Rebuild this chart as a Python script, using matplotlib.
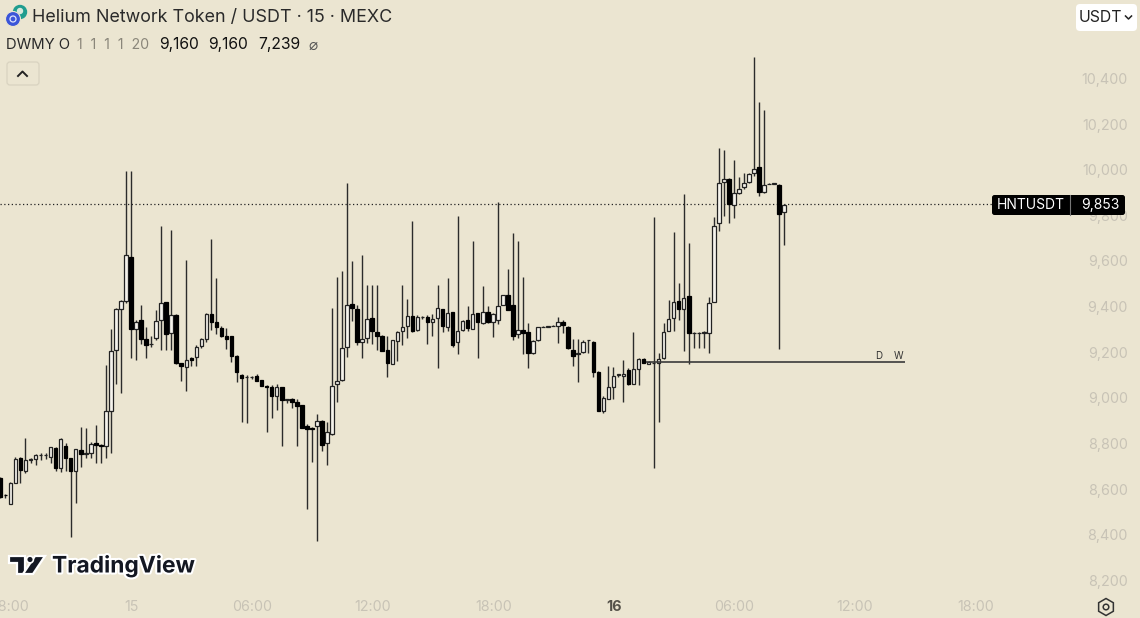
import numpy as np
import matplotlib
matplotlib.use('Agg')
import matplotlib.pyplot as plt
from matplotlib.patches import FancyBboxPatch, Circle, Polygon, RegularPolygon
import matplotlib.patheffects as pe

# 15 minute candles, bar 0 is the "15" day tick
first_bar = -26
opens = [8650, 8578, 8538, 8631, 8738, 8684, 8732, 8733, 8752, 8752, 8742, 8781, 8695, 8793, 8738, 8684, 8774, 8758, 8762, 8803, 8796, 8792, 8947, 9214, 9392, 9429, 9620, 9306, 9342, 9261, 9237, 9266, 9342, 9421, 9285, 9367, 9155, 9136, 9176, 9180, 9230, 9261, 9372, 9337, 9307, 9275, 9272, 9188, 9103, 9094,
         9093, 9098, 9081, 9056, 9049, 9011, 9049, 8994, 8998, 8986, 8970, 8879, 8871, 8879, 8903, 8803, 8844, 9065, 9079, 9224, 9412, 9393, 9249, 9263, 9351, 9293, 9275, 9212, 9152, 9253, 9297, 9316, 9363, 9298, 9356, 9355, 9333, 9351, 9390, 9314, 9379, 9249,
         9298, 9344, 9305, 9374, 9330, 9379, 9337, 9343, 9410, 9452, 9411, 9282, 9299, 9293, 9201, 9254, 9312, 9314, 9316, 9318, 9337, 9315, 9213, 9196, 9203, 9255, 9249, 9118, 8943, 8998, 9052, 9104, 9097, 9125, 9064, 9130, 9172, 9152,
         9155, 9157, 9177, 9297, 9351, 9429, 9392, 9448, 9286, 9286, 9288, 9285, 9423, 9767, 9949, 9962, 9848, 9899, 9928, 9947, 9987, 10013, 9905, 9939, 9941, 9937, 9816]
highs = [8657, 8580, 8633, 8745, 8745, 8825, 8738, 8757, 8760, 8760, 8789, 8786, 8826, 8803, 8741, 8779, 8876, 8869, 8811, 8882, 8800, 9147, 9304, 9396, 9432, 9997, 9997, 9344, 9410, 9315, 9275, 9388, 9756, 9423, 9738, 9369, 9157, 9607, 9183, 9234, 9266, 9373, 9697, 9529, 9319, 9307, 9274, 9190, 9105, 9103,
         9097, 9107, 9083, 9059, 9059, 9063, 9052, 8997, 9000, 8996, 8972, 8888, 8876, 8932, 8905, 8898, 9398, 9531, 9558, 9945, 9601, 9409, 9627, 9496, 9496, 9496, 9277, 9274, 9257, 9297, 9496, 9434, 9779, 9364, 9360, 9366, 9370, 9496, 9392, 9526, 9381, 9799,
         9343, 9403, 9688, 9376, 9493, 9407, 9374, 9860, 9454, 9566, 9724, 9692, 9531, 9330, 9257, 9314, 9316, 9317, 9320, 9359, 9344, 9317, 9260, 9260, 9257, 9258, 9251, 9120, 9011, 9144, 9140, 9108, 9169, 9133, 9290, 9177, 9176, 9162,
         9794, 9201, 9329, 9431, 9729, 9504, 9895, 9680, 9290, 9290, 9294, 9446, 9797, 10096, 10089, 9964, 10045, 9972, 9987, 9987, 10495, 10298, 10264, 9943, 9943, 9939, 9850]
lows = [8562, 8562, 8536, 8631, 8631, 8675, 8716, 8708, 8730, 8736, 8719, 8684, 8679, 8684, 8394, 8543, 8698, 8741, 8738, 8719, 8716, 8741, 8762, 9063, 9025, 9417, 9176, 9169, 9239, 9176, 9224, 9256, 9212, 9212, 9212, 9152, 9077, 9034, 9144, 9144, 9220, 9249, 9300, 9283, 9271, 9215, 9161, 9074, 8895, 8894,
        9084, 9076, 9054, 8854, 8913, 8949, 8793, 8979, 8960, 8793, 8870, 8514, 8723, 8375, 8771, 8707, 8842, 8986, 9077, 9183, 9341, 9234, 9179, 9244, 9238, 9212, 9207, 9095, 9150, 9163, 9234, 9266, 9292, 9296, 9347, 9239, 9274, 9132, 9290, 9297, 9227, 9195,
        9296, 9296, 9303, 9176, 9328, 9330, 9271, 9327, 9408, 9386, 9257, 9264, 9195, 9133, 9195, 9252, 9312, 9314, 9316, 9242, 9286, 9217, 9144, 9070, 9201, 9201, 9093, 8943, 8935, 8996, 8998, 9092, 8986, 9059, 9062, 9059, 9155, 9150,
        8697, 8897, 9175, 9295, 9297, 9344, 9208, 9151, 9220, 9220, 9220, 9198, 9421, 9734, 9801, 9770, 9792, 9897, 9916, 9945, 9975, 9889, 9899, 9939, 9940, 9215, 9672]
closes = [8570, 8575, 8631, 8736, 8687, 8730, 8736, 8751, 8754, 8754, 8786, 8694, 8824, 8741, 8684, 8777, 8758, 8760, 8800, 8795, 8792, 8944, 9207, 9394, 9429, 9627, 9303, 9335, 9261, 9234, 9239, 9341, 9420, 9284, 9366, 9154, 9141, 9167, 9169, 9224, 9259, 9369, 9335, 9313, 9275, 9261, 9186, 9116, 9088, 9096,
          9095, 9078, 9056, 9052, 9012, 9049, 8993, 8996, 8984, 8967, 8872, 8865, 8867, 8903, 8796, 8853, 9054, 9078, 9220, 9408, 9395, 9249, 9262, 9348, 9295, 9275, 9209, 9157, 9255, 9291, 9314, 9363, 9294, 9355, 9358, 9335, 9348, 9395, 9317, 9373, 9236, 9294,
          9341, 9308, 9369, 9333, 9381, 9337, 9372, 9406, 9452, 9388, 9274, 9301, 9289, 9201, 9251, 9312, 9314, 9316, 9318, 9336, 9322, 9219, 9188, 9198, 9249, 9257, 9118, 8947, 9001, 9052, 9100, 9106, 9109, 9065, 9130, 9175, 9157, 9160,
          9157, 9174, 9293, 9348, 9421, 9392, 9440, 9285, 9288, 9288, 9292, 9420, 9757, 9946, 9960, 9851, 9899, 9919, 9943, 9982, 10007, 9906, 9937, 9941, 9942, 9807, 9848]

last_price = 9853
level_price = 9160
level_start = 102.5
level_end = 154
price_ticks = [8200, 8400, 8600, 8800, 9000, 9200, 9400, 9600, 9800, 10000, 10200, 10400]
time_ticks = [-24, 0, 24, 48, 72, 96, 120, 144, 168]
time_labels = ['18:00', '15', '06:00', '12:00', '18:00', '16', '06:00', '12:00', '18:00']

BG = '#ebe5d1'
TICK = '#c8c3b6'
INK = '#1a1a1a'
plt.rcParams['font.family'] = ['Inter', 'DejaVu Sans']

fig = plt.figure(figsize=(11.4, 6.18), dpi=100, facecolor=BG)
ax = fig.add_axes([0, 0, 1, 1], facecolor=BG)

o = np.array(opens)
h = np.array(highs)
l = np.array(lows)
c = np.array(closes)
bars = first_bar + np.arange(len(o))
up = c >= o

ax.vlines(bars, l, h, color='#2b2b2b', lw=1.0, zorder=2)
ax.bar(bars[up], (c - o)[up], bottom=o[up], width=0.7, facecolor='#f5f3ec',
       edgecolor='#222222', lw=0.9, zorder=3)
ax.bar(bars[~up], (c - o)[~up], bottom=o[~up], width=0.7, facecolor='black',
       edgecolor='black', lw=0.9, zorder=3)

ax.axhline(last_price, xmin=0, xmax=992 / 1140, color='#222222', lw=0.9, ls=(0, (1, 2)), zorder=1)
ax.hlines(level_price, level_start, level_end, color='#3a3a3a', lw=1.2, zorder=4)
ax.text(level_end - 5.2, level_price + 6, 'D', fontsize=7, color='#333333', ha='center', va='bottom')
ax.text(level_end - 1.2, level_price + 6, 'W', fontsize=7, color='#333333', ha='center', va='bottom')

# same scale as the screenshot: 5.025 px per bar, 4.382 price units per px
ax.set_xlim(-26.07, 200.8)
ax.set_ylim(8038, 10746)
ax.axis('off')

for p in price_ticks:
    ax.text(1128 / 1140, p - 4, f'{p:,}', transform=ax.get_yaxis_transform(), ha='right', va='center',
            fontsize=10.3, color=TICK, zorder=1)
for t, lab in zip(time_ticks, time_labels):
    day = lab == '16'
    ax.text(t + 0.1, 11 / 618, lab, transform=ax.get_xaxis_transform(), ha='center', va='center',
            fontsize=10.3, color='#55524a' if day else TICK, fontweight='bold' if day else 'normal')

# screen furniture in pixel coordinates
ui = fig.add_axes([0, 0, 1, 1], facecolor='none')
ui.set_xlim(0, 1140)
ui.set_ylim(618, 0)
ui.axis('off')

ui.add_patch(Circle((20, 12), 6.5, color='#1f9d8f'))
ui.add_patch(Circle((20, 11), 2.5, color='#d8e8dc'))
ui.add_patch(Circle((13, 19), 7.5, color='#3b55d9', ec=BG, lw=0.8))
ui.add_patch(Circle((13, 19), 3, fc='none', ec='#dfe4fb', lw=0.9))
ui.text(32, 17, 'Helium Network Token / USDT · 15 · MEXC', fontsize=12.9, color='#2a2a2a', va='center')

ui.text(6, 45, 'DWMY O', fontsize=10.7, color='#2a2a2a', va='center')
ui.text(77, 45, '1  1  1  1  20', fontsize=10.2, color='#8a867a', va='center')
ui.text(159, 45, '9,160', fontsize=11.3, color='#111111', va='center')
ui.text(208, 45, '9,160', fontsize=11.3, color='#111111', va='center')
ui.text(258, 45, '7,239', fontsize=11.3, color='#111111', va='center')
ui.text(313, 45, '⌀', fontsize=11, color='#555555', va='center', ha='center', family='DejaVu Sans')

ui.add_patch(FancyBboxPatch((7, 62), 32, 23, boxstyle='round,pad=0,rounding_size=3', fc=BG, ec='#d9d3c0', lw=0.9))
ui.plot([18, 22.5, 27], [76, 71.5, 76], color='#222222', lw=1.4)

ui.add_patch(FancyBboxPatch((1076, 4), 61, 27, boxstyle='round,pad=0,rounding_size=4', fc='white', ec='none', zorder=5))
ui.text(1079, 17.5, 'USDT', fontsize=11.4, color='#222222', va='center', zorder=6)
ui.plot([1125.5, 1128.5, 1131.5], [16, 19, 16], color='#222222', lw=1.1, zorder=6)

ui.add_patch(FancyBboxPatch((992, 195), 133, 20, boxstyle='round,pad=0,rounding_size=2.5', fc='black', ec='none', zorder=5))
ui.plot([1070, 1070], [195, 215], color='#777777', lw=0.8, zorder=6)
ui.text(997, 205, 'HNTUSDT', fontsize=10, color='white', va='center', zorder=6)
ui.text(1120, 205, f'{last_price:,}', fontsize=10, color='white', va='center', ha='right', zorder=6)

# TradingView mark
halo = [pe.withStroke(linewidth=3, foreground='white')]
for shape in ([(9, 556), (25, 556), (25, 574), (17, 574), (17, 563), (9, 563)],
              [(35, 556), (45, 556), (33, 574), (23, 574)]):
    ui.add_patch(Polygon(shape, closed=True, fc='#131722', ec='white', lw=1.6, zorder=5))
ui.add_patch(Circle((30, 559.5), 3.4, fc='#131722', ec='white', lw=1.2, zorder=5))
ui.text(52, 566, 'TradingView', fontsize=16.4, fontweight='bold', color='#131722', va='center',
        path_effects=halo, zorder=5)

ui.add_patch(RegularPolygon((1106, 607), 6, radius=8.5, fc='none', ec='#333333', lw=1.1))
ui.add_patch(Circle((1106, 607), 2.8, fc='none', ec='#333333', lw=1.1))

fig.savefig('out.png', dpi=100, facecolor=BG)
